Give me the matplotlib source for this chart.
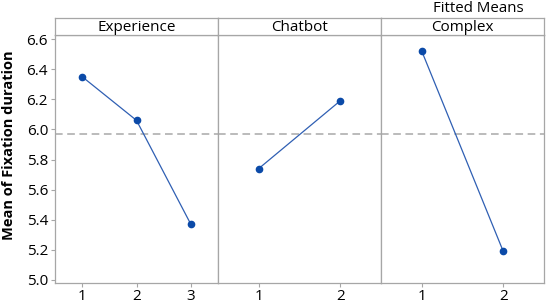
import matplotlib
matplotlib.use('Agg')
import matplotlib.pyplot as plt

plt.rcParams['font.family'] = ['Open Sans', 'DejaVu Sans']

# data
factors = ['Experience', 'Chatbot', 'Complex']
levels = [[1, 2, 3], [1, 2], [1, 2]]
means = [[6.35, 6.06, 5.37], [5.74, 6.19], [6.52, 5.19]]
grand_mean = 5.97
yticks = [5.0, 5.2, 5.4, 5.6, 5.8, 6.0, 6.2, 6.4, 6.6]

W, H = 546, 303
fig = plt.figure(figsize=(W / 100, H / 100), dpi=100)

left, right = 55, 544
bottom, top, strip_top = 283, 35, 18
pw = (right - left) / 3
edge = '#a6a6a6'
line_c = '#2f5fb3'
mark_c = '#0b4aa8'

for i, f in enumerate(factors):
    x0 = left + i * pw
    ax = fig.add_axes([x0 / W, 1 - bottom / H, pw / W, (bottom - top) / H])
    sx = fig.add_axes([x0 / W, 1 - top / H, pw / W, (top - strip_top) / H])
    ax.axhline(grand_mean, color='#a8a8a8', ls=(0, (5, 3)), lw=1.1, zorder=1)
    ax.plot(levels[i], means[i], color=line_c, lw=0.9, zorder=2)
    ax.plot(levels[i], means[i], 'o', color=mark_c, ms=4.5, zorder=3)
    ax.set_xlim(0.5, len(levels[i]) + 0.5)
    ax.set_ylim(4.98, 6.627)
    ax.set_xticks(levels[i])
    ax.set_yticks(yticks)
    ax.tick_params(axis='both', colors=edge, labelcolor='black', labelsize=11, length=3)
    ax.tick_params(axis='x', pad=1)
    ax.tick_params(axis='y', pad=2)
    if i > 0:
        ax.tick_params(axis='y', left=False, labelleft=False)
    else:
        ax.set_yticklabels([f'{v:.1f}' for v in yticks])
        ax.set_ylabel('Mean of Fixation duration', fontsize=10.5, fontweight='bold')
        ax.yaxis.set_label_coords(-39 / pw, (283 - 145) / (bottom - top))
    for s in ax.spines.values():
        s.set_color(edge)
        s.set_linewidth(0.9)
    sx.set_xticks([])
    sx.set_yticks([])
    for s in sx.spines.values():
        s.set_color(edge)
        s.set_linewidth(0.9)
    sx.text(0.5, 0.42, f, ha='center', va='center', fontsize=11, transform=sx.transAxes)

fig.text(478 / W, 1 - 8 / H, 'Fitted Means', ha='center', va='center', fontsize=10.8)

fig.savefig('out.png', dpi=100)
